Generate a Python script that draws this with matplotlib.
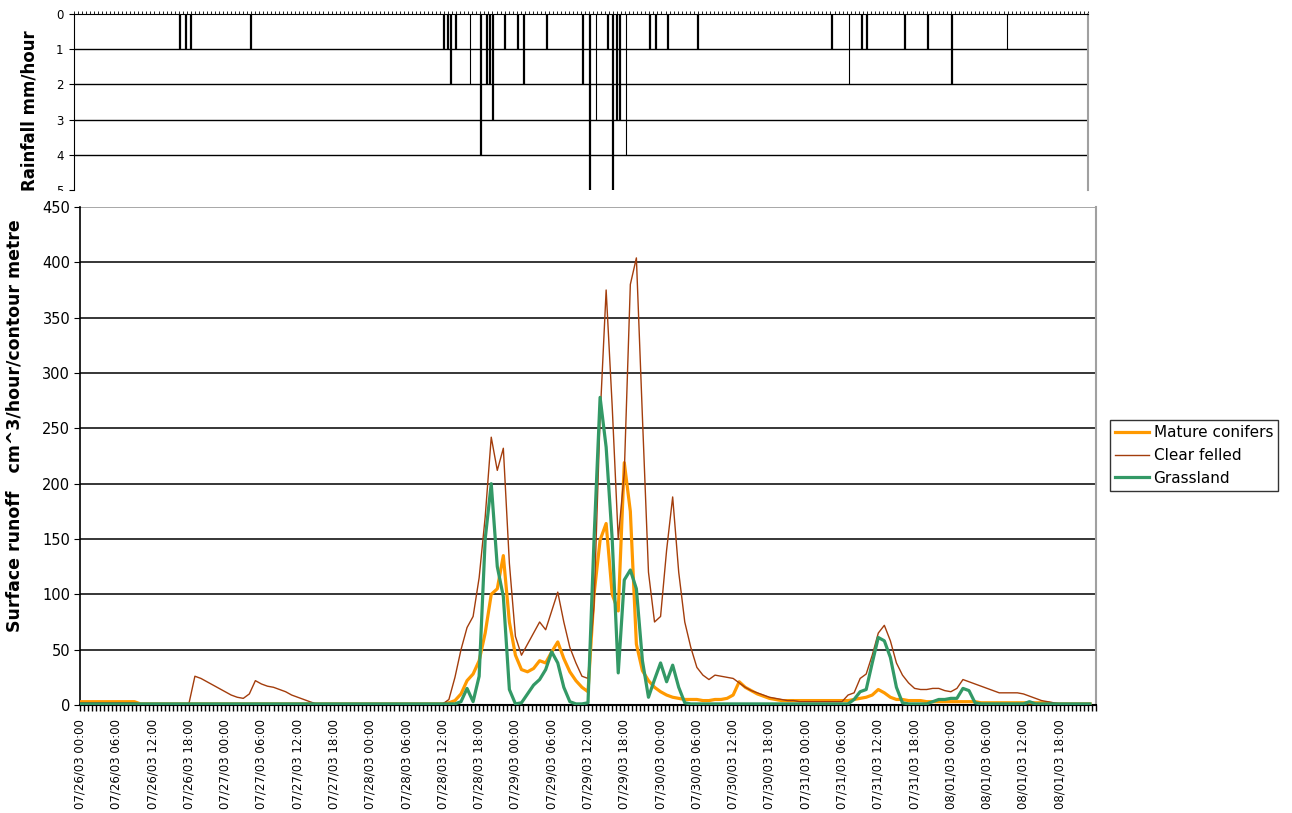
import numpy as np
import matplotlib
matplotlib.use('Agg')
import matplotlib.pyplot as plt
from matplotlib.lines import Line2D
from matplotlib.patches import Rectangle

plt.rcParams['font.family'] = ['DejaVu Sans']

# hourly values, starting 07/26/03 00:00
hours = np.arange(168)

mature_conifers = [
    3, 3, 3, 3, 3, 3, 3, 3, 3, 3, 1, 1,
    1, 1, 1, 1, 1, 1, 1, 1, 1, 1, 1, 1,
    1, 1, 1, 1, 1, 1, 1, 1, 1, 1, 1, 1,
    1, 1, 1, 1, 1, 1, 1, 1, 1, 1, 1, 1,
    1, 1, 1, 1, 1, 1, 1, 1, 1, 1, 1, 1,
    1, 2, 4, 10, 22, 28, 40, 65, 100, 105, 135, 75,
    45, 32, 30, 33, 40, 38, 48, 57, 42, 30, 22, 16,
    12, 100, 149, 164, 100, 85, 219, 175, 55, 31, 22, 16,
    12, 9, 7, 6, 5, 5, 5, 4, 4, 5, 5, 6,
    9, 21, 16, 13, 10, 8, 6, 5, 4, 4, 4, 4,
    4, 4, 4, 4, 4, 4, 4, 4, 5, 6, 7, 9,
    14, 11, 7, 5, 5, 4, 4, 4, 3, 3, 3, 3,
    3, 3, 3, 3, 3, 2, 2, 2, 2, 2, 2, 2,
    2, 2, 2, 2, 2, 1, 1, 1, 1, 1, 1, 1,
]

clear_felled = [
    2, 2, 2, 2, 2, 2, 2, 2, 2, 2, 1, 1,
    1, 1, 1, 1, 1, 1, 1, 26, 24, 21, 18, 15,
    12, 9, 7, 6, 10, 22, 19, 17, 16, 14, 12, 9,
    7, 5, 3, 1, 1, 1, 1, 1, 1, 1, 1, 1,
    1, 1, 1, 1, 1, 1, 1, 1, 1, 1, 1, 1,
    1, 5, 25, 50, 70, 80, 115, 170, 242, 212, 232, 128,
    62, 45, 55, 65, 75, 68, 85, 102, 75, 52, 38, 26,
    24, 90, 260, 375, 270, 150, 210, 380, 404, 260, 120, 75,
    80, 140, 188, 120, 75, 52, 34, 27, 23, 27, 26, 25,
    24, 20, 16, 13, 11, 9, 7, 6, 5, 4, 4, 3,
    3, 3, 3, 3, 3, 3, 3, 9, 11, 24, 28, 45,
    65, 72, 58, 38, 27, 20, 15, 14, 14, 15, 15, 13,
    12, 15, 23, 21, 19, 17, 15, 13, 11, 11, 11, 11,
    10, 8, 6, 4, 3, 2, 1, 1, 1, 1, 1, 1,
]

grassland = [
    1, 1, 1, 1, 1, 1, 1, 1, 1, 1, 1, 1,
    1, 1, 1, 1, 1, 1, 1, 1, 1, 1, 1, 1,
    1, 1, 1, 1, 1, 1, 1, 1, 1, 1, 1, 1,
    1, 1, 1, 1, 1, 1, 1, 1, 1, 1, 1, 1,
    1, 1, 1, 1, 1, 1, 1, 1, 1, 1, 1, 1,
    1, 1, 1, 3, 15, 3, 26, 150, 200, 125, 98, 14,
    1, 2, 10, 18, 23, 32, 48, 38, 16, 3, 1, 1,
    2, 150, 278, 233, 150, 29, 113, 122, 105, 40, 7, 23,
    38, 21, 36, 16, 2, 1, 1, 1, 1, 1, 1, 1,
    1, 1, 1, 1, 1, 1, 1, 1, 1, 1, 1, 1,
    1, 1, 1, 1, 1, 1, 1, 1, 5, 12, 14, 38,
    61, 58, 43, 16, 2, 1, 1, 1, 1, 3, 5, 5,
    6, 6, 15, 13, 2, 1, 1, 1, 1, 1, 1, 1,
    1, 3, 1, 1, 1, 1, 1, 1, 1, 1, 1, 1,
]

# rainfall: time (hours from 07/26/03 00:00) and depth mm/hour
rain_hours = [17.6, 18.5, 19.4, 29.3, 61.3, 61.9, 62.4, 63.3, 65.6, 67.4,
              68.4, 68.9, 69.4, 71.4, 73.5, 74.5, 78.4, 84.4, 85.5, 86.5,
              88.5, 89.3, 90.0, 90.5, 91.5, 95.4, 96.4, 98.4, 103.4, 125.6,
              128.4, 130.6, 131.4, 137.7, 141.5, 145.5, 154.6]
rain_mm = [1, 1, 1, 1, 1, 1, 2, 1, 2, 4,
           2, 2, 3, 1, 1, 2, 1, 2, 6, 3,
           1, 6, 3, 3, 4, 1, 1, 1, 1, 1,
           2, 1, 1, 1, 1, 2, 1]
rain_thin = [65.6, 86.5, 91.5, 128.4, 154.6]

tick_hours = list(range(0, 163, 6))
tick_labels = [
    '07/26/03 00:00', '07/26/03 06:00', '07/26/03 12:00', '07/26/03 18:00',
    '07/27/03 00:00', '07/27/03 06:00', '07/27/03 12:00', '07/27/03 18:00',
    '07/28/03 00:00', '07/28/03 06:00', '07/28/03 12:00', '07/28/03 18:00',
    '07/29/03 00:00', '07/29/03 06:00', '07/29/03 12:00', '07/29/03 18:00',
    '07/30/03 00:00', '07/30/03 06:00', '07/30/03 12:00', '07/30/03 18:00',
    '07/31/03 00:00', '07/31/03 06:00', '07/31/03 12:00', '07/31/03 18:00',
    '08/01/03 00:00', '08/01/03 06:00', '08/01/03 12:00', '08/01/03 18:00',
]

W, H = 1292, 813
fig = plt.figure(figsize=(W / 100, H / 100), dpi=100)

# ---- rainfall panel (top, inverted)
ax1 = fig.add_axes([74 / W, 1 - 190 / H, 1014 / W, 176 / H])
for t, mm in zip(rain_hours, rain_mm):
    lw = 0.8 if t in rain_thin else 1.6
    ax1.vlines(t, 0, mm, color='black', lw=lw)
ax1.set_xlim(0, 168)
ax1.set_ylim(5, 0)
ax1.set_yticks([0, 1, 2, 3, 4, 5])
for y in [1, 2, 3, 4]:
    ax1.axhline(y, color='black', lw=1.0, zorder=0)
ax1.spines['bottom'].set_visible(False)
ax1.spines['right'].set_color('#a0a0a0')
ax1.spines['right'].set_linewidth(1.5)
ax1.xaxis.tick_top()
ax1.set_xticks(np.arange(0, 168.01, 2 / 3), minor=True)
ax1.set_xticks([])
ax1.tick_params(axis='x', which='minor', top=True, direction='out', length=2, width=0.6)
ax1.tick_params(axis='y', direction='out', length=3.6, labelsize=8.5, pad=4)
ax1.set_ylabel('Rainfall mm/hour', fontsize=12, fontweight='bold')
ax1.yaxis.set_label_coords(-0.035, 0.45)
clip = Rectangle((0, 1 - 191 / H), 1, 191 / H, transform=fig.transFigure)
for lbl in ax1.get_yticklabels():
    lbl.set_clip_path(clip)

# ---- runoff panel
ax2 = fig.add_axes([80 / W, 1 - 705 / H, 1016 / W, 498 / H])
colors = {'Mature conifers': '#ff9900', 'Clear felled': '#a33d0c', 'Grassland': '#339966'}
ax2.plot(hours, mature_conifers, color=colors['Mature conifers'], lw=2.3, zorder=3)
ax2.plot(hours, clear_felled, color=colors['Clear felled'], lw=1.0, zorder=4)
ax2.plot(hours, grassland, color=colors['Grassland'], lw=2.3, zorder=5)
ax2.set_xlim(0, 168)
ax2.set_ylim(0, 450)
ax2.set_yticks(range(0, 451, 50))
for y in range(50, 401, 50):
    ax2.axhline(y, color='black', lw=1.1, zorder=1)
ax2.axhline(450, color='#909090', lw=1.1, zorder=1)
ax2.spines['top'].set_visible(False)
ax2.spines['right'].set_color('#a0a0a0')
ax2.spines['right'].set_linewidth(1.5)
ax2.spines['left'].set_linewidth(1.2)
ax2.spines['bottom'].set_linewidth(1.5)
ax2.set_xticks(tick_hours)
ax2.set_xticklabels(tick_labels, rotation=90, fontsize=8.5)
ax2.set_xticks(np.arange(0, 168.01, 2 / 3), minor=True)
ax2.tick_params(axis='x', which='both', direction='out', length=4, width=1.0, pad=6)
ax2.tick_params(axis='y', direction='out', length=4, labelsize=10.5, pad=3)
ax2.set_ylabel('Surface runoff   cm^3/hour/contour metre', fontsize=12.5, fontweight='bold')
ax2.yaxis.set_label_coords(-0.056, 0.56)

handles = [Line2D([], [], color=colors['Mature conifers'], lw=2.3),
           Line2D([], [], color=colors['Clear felled'], lw=1.0),
           Line2D([], [], color=colors['Grassland'], lw=2.3)]
leg = fig.legend(handles, list(colors.keys()), loc='upper left',
                 bbox_to_anchor=(1110 / W, 1 - 420 / H), fontsize=11,
                 frameon=True, fancybox=False, handlelength=2.2,
                 handletextpad=0.3, labelspacing=0.5, borderpad=0.35,
                 borderaxespad=0)
leg.get_frame().set_edgecolor('black')
leg.get_frame().set_linewidth(1.0)

fig.savefig('out.png', dpi=100)
